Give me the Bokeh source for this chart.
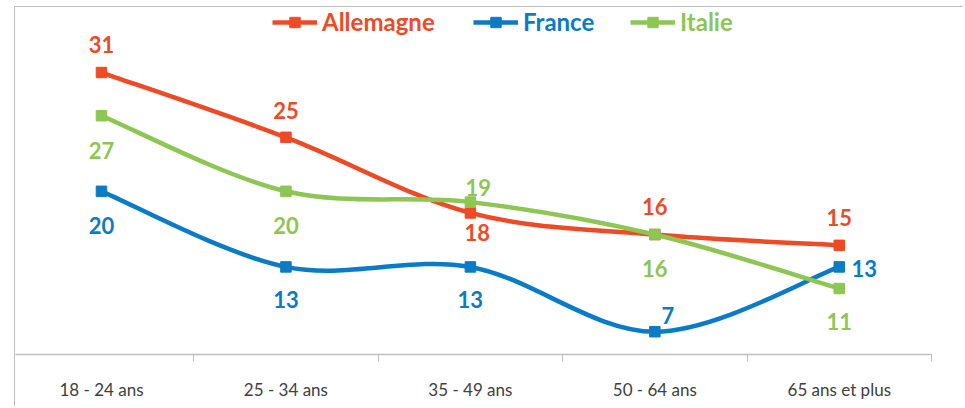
from bokeh.plotting import figure
from bokeh.models import (Range1d, FixedTicker, Legend, LegendItem, ColumnDataSource)
from bokeh.core.properties import value
from bokeh.embed import file_html
from bokeh.resources import INLINE

# ---- data ----
categories = ["18 - 24 ans", "25 - 34 ans", "35 - 49 ans", "50 - 64 ans", "65 ans et plus"]
allemagne = [31, 25, 18, 16, 15]
france = [20, 13, 13, 7, 13]
italie = [27, 20, 19, 16, 11]

# ---- styles ----
series = [
    ("Allemagne", allemagne, "#EE4A25", [(0, -28), (0, -27), (7, 20), (0, -28), (0, -28)], 257),
    ("France", france, "#0A7BC6", [(0, 34), (0, 33), (0, 33), (13, -16), (25, 2)], 458),
    ("Italie", italie, "#8DC653", [(0, 35), (0, 34), (8, -15), (0, 34), (0, 33)], 615),
]

xs = [i + 0.5 for i in range(len(categories))]

W, H = 949, 400
p = figure(width=W, height=H, output_backend="svg", toolbar_location=None,
           x_range=Range1d(0.0339, 5), y_range=Range1d(4.89, 37.02),
           y_axis_location=None, min_border_left=0, min_border_right=33,
           min_border_top=0, min_border_bottom=53)
p.styles = {"margin-left": "14px", "margin-top": "6px",
            "border-left": "1px solid #BFBFBF", "border-top": "1px solid #BFBFBF"}
p.outline_line_color = None
p.xgrid.visible = False
p.ygrid.visible = False
p.background_fill_color = "white"
p.border_fill_color = "white"

ax = p.xaxis[0]
ax.ticker = FixedTicker(ticks=xs, minor_ticks=list(range(len(categories) + 1)))
ax.major_label_overrides = {x: c for x, c in zip(xs, categories)}
ax.major_tick_line_color = None
ax.major_tick_out = 0
ax.major_tick_in = 0
ax.minor_tick_line_color = "#BFBFBF"
ax.minor_tick_out = 7
ax.minor_tick_in = 0
ax.axis_line_color = "#BFBFBF"
ax.axis_line_width = 1.5
ax.major_label_standoff = 17
ax.major_label_text_font = "Lato"
ax.major_label_text_font_size = "17px"
ax.major_label_text_color = "#404040"


def bezier_controls(vals):
    n = len(vals)
    pts = list(zip(xs, vals))
    x0, y0, x1, y1, cx0, cy0, cx1, cy1 = ([] for _ in range(8))
    for i in range(n - 1):
        pm = pts[i - 1] if i > 0 else pts[i]
        pa = pts[i]
        pb = pts[i + 1]
        pn = pts[i + 2] if i + 2 < n else pts[i + 1]
        x0.append(pa[0]); y0.append(pa[1]); x1.append(pb[0]); y1.append(pb[1])
        cx0.append(pa[0] + (pb[0] - pm[0]) / 6); cy0.append(pa[1] + (pb[1] - pm[1]) / 6)
        cx1.append(pb[0] - (pn[0] - pa[0]) / 6); cy1.append(pb[1] - (pn[1] - pa[1]) / 6)
    return dict(x0=x0, y0=y0, x1=x1, y1=y1, cx0=cx0, cy0=cy0, cx1=cx1, cy1=cy1)


for name, vals, col, offs, lx in series:
    bsrc = ColumnDataSource(bezier_controls(vals))
    br = p.bezier(x0="x0", y0="y0", x1="x1", y1="y1", cx0="cx0", cy0="cy0",
                  cx1="cx1", cy1="cy1", source=bsrc, line_color=col, line_width=4.5)
    src = ColumnDataSource(dict(x=xs, y=vals, t=[str(v) for v in vals],
                                dx=[o[0] for o in offs], dy=[o[1] for o in offs]))
    sr = p.scatter("x", "y", source=src, marker="square", size=10.5,
                   fill_color=col, line_color=col)
    p.text("x", "y", text="t", source=src, x_offset="dx", y_offset="dy",
           text_align="center", text_baseline="middle", text_color=col,
           text_font=value("Lato"), text_font_style="bold", text_font_size="22px")
    leg = Legend(items=[LegendItem(label=name, renderers=[br, sr])],
                 location=(lx, 318), orientation="horizontal",
                 glyph_width=45, glyph_height=26, label_standoff=5,
                 padding=0, margin=0, spacing=0, border_line_color=None,
                 background_fill_alpha=0, label_text_font="Lato",
                 label_text_font_style="bold", label_text_font_size="24px",
                 label_text_color=col, label_height=26, label_text_baseline="middle")
    p.add_layout(leg)

open("out.html", "w").write(file_html(p, INLINE))
